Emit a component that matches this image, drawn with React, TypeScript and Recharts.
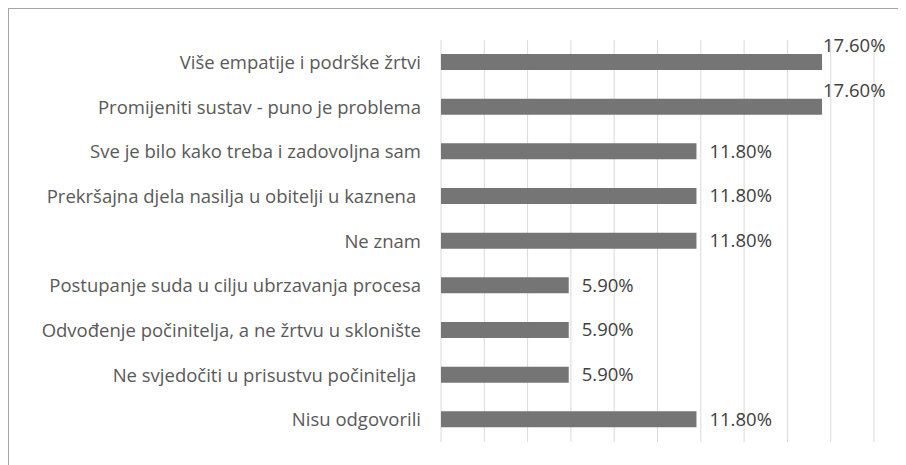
import React from "react"
import { BarChart, Bar, XAxis, YAxis, CartesianGrid, LabelList } from "recharts"

const categories = [
  "Više empatije i podrške žrtvi",
  "Promijeniti sustav - puno je problema",
  "Sve je bilo kako treba i zadovoljna sam",
  "Prekršajna djela nasilja u obitelji u kaznena ",
  "Ne znam",
  "Postupanje suda u cilju ubrzavanja procesa",
  "Odvođenje počinitelja, a ne žrtvu u sklonište",
  "Ne svjedočiti u prisustvu počinitelja ",
  "Nisu odgovorili",
]

const values = [17.6, 17.6, 11.8, 11.8, 11.8, 5.9, 5.9, 5.9, 11.8]

const xTicks = [0, 2, 4, 6, 8, 10, 12, 14, 16, 18, 20]

const chartData = categories.map((name, i) => ({ name, value: values[i] }))

const FONT = "'Open Sans', sans-serif"

// Excel pushed the two longest bars' labels up above the bar end
function ValueLabel(props: any) {
  const { x, y, width, height, value } = props
  const raised = value >= 17
  const tx = x + width + (raised ? 1 : 13)
  const ty = y + height / 2 + (raised ? -16 : 0)
  return (
    <text
      x={tx}
      y={ty}
      dy="0.35em"
      fill="#404040"
      fontSize={18.5}
      fontFamily={FONT}
    >
      {value.toFixed(2)}%
    </text>
  )
}

export default function App() {
  return (
    <div
      style={{
        width: 897,
        height: 456,
        borderTop: "1px solid #a6a6a6",
        borderLeft: "1px solid #a6a6a6",
        overflow: "hidden",
        background: "#fff",
      }}
    >
      <BarChart
        width={897}
        height={456}
        data={chartData}
        layout="vertical"
        margin={{ top: 31, right: 32, bottom: 23, left: 0 }}
        barCategoryGap={0}
      >
        <CartesianGrid horizontal={false} stroke="#d9d9d9" verticalValues={xTicks} />
        <XAxis type="number" domain={[0, 20]} ticks={xTicks} hide />
        <YAxis
          type="category"
          dataKey="name"
          width={432}
          axisLine={false}
          tickLine={false}
          tickSize={0}
          tickMargin={20}
          interval={0}
          tick={{ fill: "#595959", fontSize: 18.5, fontFamily: FONT, style: { whiteSpace: "pre" } }}
        />
        <Bar dataKey="value" fill="#757575" barSize={16} isAnimationActive={false}>
          <LabelList dataKey="value" content={ValueLabel} />
        </Bar>
      </BarChart>
    </div>
  )
}
